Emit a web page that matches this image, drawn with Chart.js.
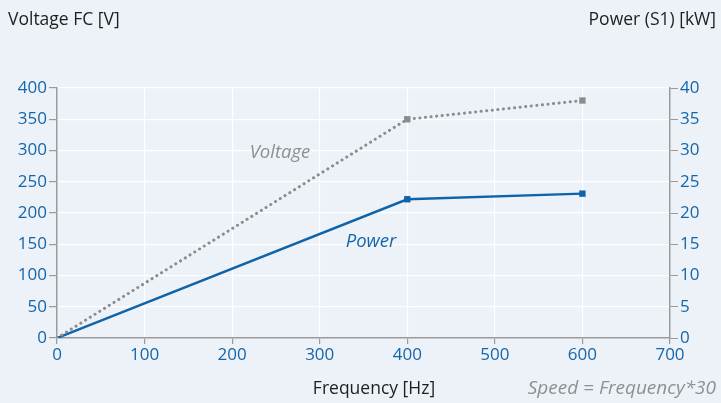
<!DOCTYPE html>
<html>
<head>
<meta charset="utf-8">
<script src="https://cdn.jsdelivr.net/npm/chart.js@4"></script>
<style>
html,body{margin:0;padding:0;background:#edf2f9;}
#c{display:block;}
</style>
</head>
<body>
<canvas id="c" width="721" height="403"></canvas>
<script>
const frequency = [0, 400, 600];
const voltage = [0, 350, 380];
const power = [0, 22.2, 23.1];
const xTicks = [0, 100, 200, 300, 400, 500, 600, 700];
const leftTicks = [0, 50, 100, 150, 200, 250, 300, 350, 400];
const rightTicks = [0, 5, 10, 15, 20, 25, 30, 35, 40];

const FONT = "'Open Sans', 'Noto Sans', sans-serif";
const BLUE = '#1466aa';
const AXIS = '#9a9a9a';

const bgPlugin = {
  id: 'bg',
  beforeDraw(chart) {
    const ctx = chart.ctx;
    ctx.save();
    ctx.fillStyle = '#edf2f9';
    ctx.fillRect(0, 0, chart.width, chart.height);
    ctx.restore();
  }
};

const textPlugin = {
  id: 'texts',
  afterDraw(chart) {
    const ctx = chart.ctx;
    ctx.save();
    ctx.textBaseline = 'middle';
    ctx.font = "17.5px " + FONT;
    ctx.fillStyle = '#1e1e1e';
    ctx.textAlign = 'left';
    ctx.fillText('Voltage FC [V]', 8, 20);
    ctx.textAlign = 'right';
    ctx.fillText('Power (S1) [kW]', 716, 20);
    ctx.textAlign = 'center';
    ctx.fillText('Frequency [Hz]', 374, 389);
    ctx.font = "italic 19px " + FONT;
    ctx.fillStyle = '#8f8f8f';
    ctx.textAlign = 'right';
    ctx.fillText('Speed = Frequency*30', 716, 389);
    ctx.font = "italic 18.5px " + FONT;
    ctx.textAlign = 'center';
    ctx.fillText('Voltage', 280, 153);
    ctx.fillStyle = BLUE;
    ctx.fillText('Power', 371, 242);
    ctx.restore();
  }
};

function fixWidth(w) { return function(scale){ scale.width = w; }; }

new Chart(document.getElementById('c'), {
  type: 'line',
  data: {
    datasets: [
      {
        label: 'Voltage',
        data: frequency.map((f, i) => ({x: f, y: voltage[i]})),
        yAxisID: 'y',
        borderColor: '#8c8c8c',
        backgroundColor: '#8c8c8c',
        borderWidth: 3,
        borderDash: [0.1, 5.5],
        borderCapStyle: 'round',
        pointStyle: 'rect',
        pointRadius: [0, 4.5, 4.5],
        pointBorderWidth: 0,
        tension: 0
      },
      {
        label: 'Power',
        data: frequency.map((f, i) => ({x: f, y: power[i]})),
        yAxisID: 'y2',
        borderColor: '#0f63a8',
        backgroundColor: '#0f63a8',
        borderWidth: 2.5,
        pointStyle: 'rect',
        pointRadius: [0, 4.5, 4.5],
        pointBorderWidth: 0,
        tension: 0
      }
    ]
  },
  options: {
    responsive: false,
    animation: false,
    devicePixelRatio: 1,
    layout: { padding: { top: 88, left: 0, right: 0, bottom: 0 } },
    plugins: { legend: { display: false }, tooltip: { enabled: false } },
    scales: {
      x: {
        type: 'linear',
        min: 0, max: 700,
        afterBuildTicks(s) { s.ticks = xTicks.map(v => ({value: v})); },
        afterFit(s) { s.height = 65; },
        grid: { color: '#ffffff', lineWidth: 1.2, tickColor: AXIS, tickLength: 6, drawTicks: true },
        border: { display: true, color: AXIS, width: 1.5 },
        ticks: { color: BLUE, font: { size: 17, family: FONT }, padding: 1 }
      },
      y: {
        type: 'linear',
        position: 'left',
        min: 0, max: 400,
        afterBuildTicks(s) { s.ticks = leftTicks.map(v => ({value: v})); },
        afterFit: fixWidth(57),
        grid: { color: '#ffffff', lineWidth: 1.2, tickColor: AXIS, tickLength: 8 },
        border: { display: true, color: AXIS, width: 1.5 },
        ticks: { color: BLUE, font: { size: 17, family: FONT }, padding: 2 }
      },
      y2: {
        type: 'linear',
        position: 'right',
        min: 0, max: 40,
        afterBuildTicks(s) { s.ticks = rightTicks.map(v => ({value: v})); },
        afterFit: fixWidth(51),
        grid: { drawOnChartArea: false, tickColor: AXIS, tickLength: 8 },
        border: { display: true, color: AXIS, width: 1.5 },
        ticks: { color: BLUE, font: { size: 17, family: FONT }, padding: 2 }
      }
    }
  },
  plugins: [bgPlugin, textPlugin]
});
</script>
</body>
</html>
